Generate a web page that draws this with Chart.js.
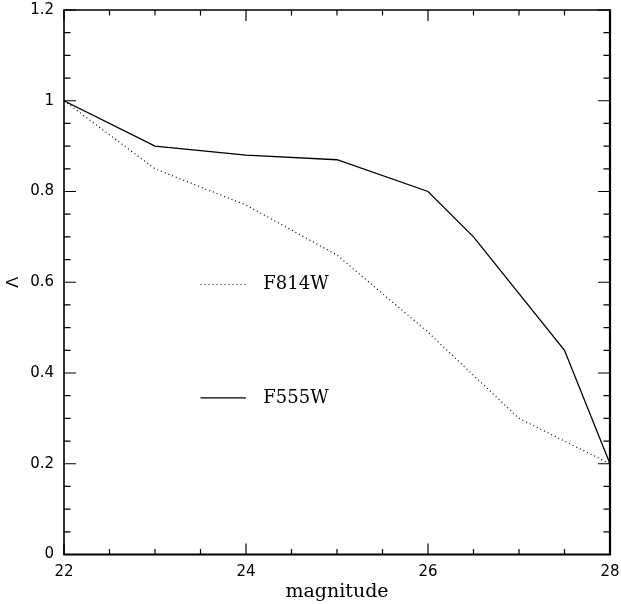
<!DOCTYPE html>
<html>
<head>
<meta charset="utf-8">
<script src="https://cdn.jsdelivr.net/npm/chart.js@4.4.1/dist/chart.umd.min.js"></script>
<style>
html,body{margin:0;padding:0;background:#fff;}
canvas{display:block;}
</style>
</head>
<body>
<canvas id="c" width="621" height="604"></canvas>
<script>
// Data
const magF814W = [22, 23, 24, 25, 26, 27, 28];
const valF814W = [1.00, 0.85, 0.77, 0.66, 0.49, 0.30, 0.20];
const magF555W = [22, 23, 24, 25, 26, 26.5, 27.5, 28];
const valF555W = [1.00, 0.90, 0.88, 0.87, 0.80, 0.70, 0.45, 0.20];
const seriesNames = ["F814W", "F555W"];
const xTickValues = [22, 24, 26, 28];
const yTickValues = [0, 0.2, 0.4, 0.6, 0.8, 1, 1.2];

const toPts = (xs, ys) => xs.map((x, i) => ({x: x, y: ys[i]}));

const frameTicks = {
  id: 'frameTicks',
  afterDatasetsDraw(chart) {
    const {ctx, chartArea: a, scales: {x, y}} = chart;
    ctx.save();
    ctx.strokeStyle = '#000';
    // ticks
    ctx.lineWidth = 1.2;
    ctx.beginPath();
    for (let i = 0; i <= 12; i++) {
      const v = 22 + i * 0.5;
      const px = x.getPixelForValue(v);
      const len = (i % 4 === 0) ? 11 : 5.5;
      ctx.moveTo(px, a.bottom); ctx.lineTo(px, a.bottom - len);
      ctx.moveTo(px, a.top); ctx.lineTo(px, a.top + len);
    }
    for (let i = 0; i <= 24; i++) {
      const v = i * 0.05;
      const py = y.getPixelForValue(v);
      const len = (i % 4 === 0) ? 12 : 6.5;
      ctx.moveTo(a.left, py); ctx.lineTo(a.left + len, py);
      ctx.moveTo(a.right, py); ctx.lineTo(a.right - len, py);
    }
    ctx.stroke();
    // frame
    ctx.lineWidth = 1.6;
    ctx.beginPath();
    ctx.moveTo(a.left, a.bottom); ctx.lineTo(a.left, a.top); ctx.lineTo(a.right, a.top);
    ctx.stroke();
    ctx.lineWidth = 2.2;
    ctx.beginPath();
    ctx.moveTo(a.left - 0.8, a.bottom); ctx.lineTo(a.right, a.bottom); ctx.lineTo(a.right, a.top - 0.8);
    ctx.stroke();

    // legend (placed in data coordinates)
    const legendItems = [
      {name: seriesNames[0], yv: 0.595, dash: [1, 3]},
      {name: seriesNames[1], yv: 0.345, dash: []}
    ];
    ctx.font = '18px "DejaVu Serif"';
    ctx.fillStyle = '#000';
    ctx.textBaseline = 'middle';
    ctx.textAlign = 'left';
    legendItems.forEach(it => {
      const py = y.getPixelForValue(it.yv);
      ctx.setLineDash(it.dash);
      ctx.lineWidth = 1.2;
      ctx.beginPath();
      ctx.moveTo(x.getPixelForValue(23.5), py);
      ctx.lineTo(x.getPixelForValue(24.0), py);
      ctx.stroke();
      ctx.setLineDash([]);
      ctx.fillText(it.name, x.getPixelForValue(24.19), py);
    });
    ctx.restore();
  }
};

const zeroPad = s => { s.paddingLeft = 0; s.paddingRight = 0; s.paddingTop = 0; s.paddingBottom = 0; };

new Chart(document.getElementById('c'), {
  type: 'line',
  data: {
    datasets: [
      {label: seriesNames[0], data: toPts(magF814W, valF814W), borderColor: '#000', borderWidth: 1.2,
       borderDash: [1, 3], pointRadius: 0, tension: 0, fill: false},
      {label: seriesNames[1], data: toPts(magF555W, valF555W), borderColor: '#000', borderWidth: 1.3,
       pointRadius: 0, tension: 0, fill: false}
    ]
  },
  options: {
    responsive: false,
    animation: false,
    devicePixelRatio: 1,
    layout: {padding: {top: 10, right: 11, left: 0, bottom: 0}},
    plugins: {legend: {display: false}, tooltip: {enabled: false}},
    scales: {
      x: {
        type: 'linear', min: 22, max: 28,
        afterBuildTicks: s => { s.ticks = xTickValues.map(v => ({value: v})); },
        afterFit: s => { s.height = 49.5; zeroPad(s); },
        grid: {display: false, drawTicks: false},
        border: {display: false},
        ticks: {color: '#000', font: {family: 'DejaVu Sans', size: 15}, padding: 9, maxRotation: 0,
                callback: v => String(v)},
        title: {display: true, text: 'magnitude', color: '#000',
                font: {family: 'DejaVu Serif', size: 19}, padding: {top: 0, bottom: 1}}
      },
      y: {
        type: 'linear', min: 0, max: 1.2,
        afterBuildTicks: s => { s.ticks = yTickValues.map(v => ({value: v})); },
        afterFit: s => { s.width = 64; zeroPad(s); },
        grid: {display: false, drawTicks: false},
        border: {display: false},
        ticks: {color: '#000', font: {family: 'DejaVu Sans', size: 15}, padding: 10,
                callback: v => String(+(+v).toFixed(2))},
        title: {display: true, text: 'Λ', color: '#000',
                font: {family: 'DejaVu Sans', size: 16}, padding: {top: 4, bottom: 0}}
      }
    }
  },
  plugins: [frameTicks]
});
</script>
</body>
</html>
